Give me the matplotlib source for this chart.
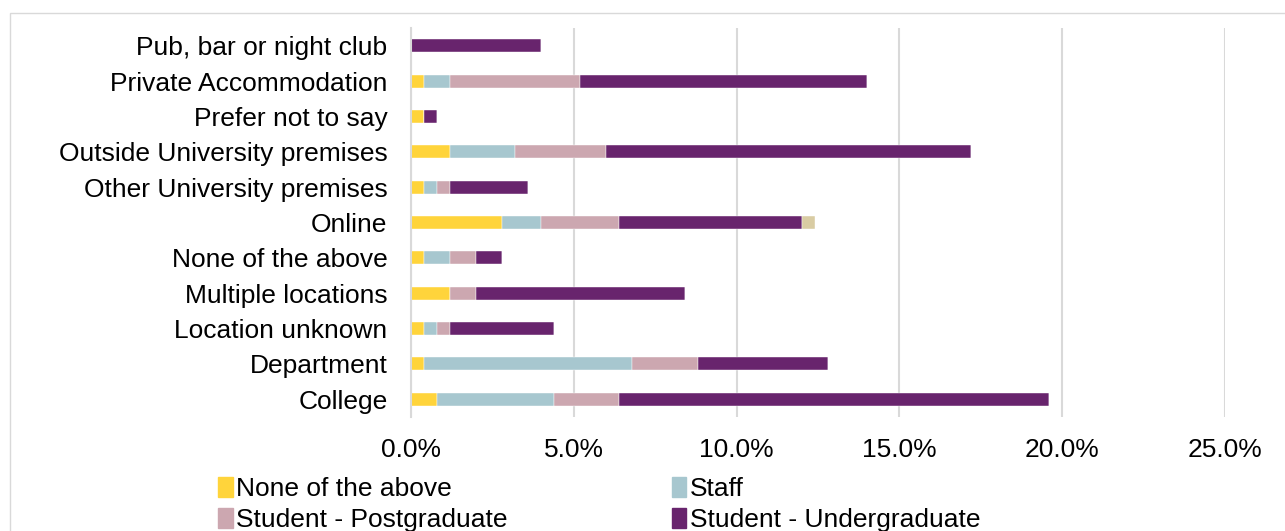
import numpy as np
from matplotlib import pyplot as plt
from matplotlib.patches import Patch, Rectangle

plt.rcParams['font.family'] = ['Liberation Sans', 'DejaVu Sans']

locations = ["College", "Department", "Location unknown", "Multiple locations",
             "None of the above", "Online", "Other University premises",
             "Outside University premises", "Prefer not to say",
             "Private Accommodation", "Pub, bar or night club"]

none_above = [0.8, 0.4, 0.4, 1.2, 0.4, 2.8, 0.4, 1.2, 0.4, 0.4, 0.0]
staff = [3.6, 6.4, 0.4, 0.0, 0.8, 1.2, 0.4, 2.0, 0.0, 0.8, 0.0]
postgrad = [2.0, 2.0, 0.4, 0.8, 0.8, 2.4, 0.4, 2.8, 0.0, 4.0, 0.0]
undergrad = [13.2, 4.0, 3.2, 6.4, 0.8, 5.6, 2.4, 11.2, 0.4, 8.8, 4.0]
other = [0.0, 0.0, 0.0, 0.0, 0.0, 0.4, 0.0, 0.0, 0.0, 0.0, 0.0]

series = [("None of the above", none_above, "#ffd43b"),
          ("Staff", staff, "#a7c7cf"),
          ("Student - Postgraduate", postgrad, "#cca7b0"),
          ("Student - Undergraduate", undergrad, "#68246d"),
          ("Other", other, "#d9cca3")]

fig = plt.figure(figsize=(12.85, 5.31), dpi=100)
ax = fig.add_axes([411/1285, 1 - 417/531, (1225 - 411)/1285, (417 - 28)/531])

y = np.arange(len(locations))
left = np.zeros(len(locations))
for name, vals, col in series:
    v = np.array(vals) / 100
    ax.barh(y, v, left=left, height=0.37, color=col, edgecolor='white', linewidth=0.3)
    left = left + v

ax.set_xlim(0, 0.25)
ax.set_ylim(-0.5, len(locations) - 0.5)
ax.set_yticks(y)
ax.set_yticklabels(locations, fontsize=19)
ax.set_xticks(np.arange(0, 0.26, 0.05))
ax.set_xticklabels([f"{t*100:.1f}%" for t in np.arange(0, 0.26, 0.05)], fontsize=19)
ax.tick_params(length=0)
ax.tick_params(axis='x', pad=15)
ax.tick_params(axis='y', pad=17)
ax.grid(axis='x', color='#d9d9d9', linewidth=1.5)
ax.set_axisbelow(True)
for s in ['top', 'right', 'bottom']:
    ax.spines[s].set_visible(False)
ax.spines['left'].set_color('#d9d9d9')
ax.spines['left'].set_linewidth(1.5)

# excel fills legend row by row
order = [0, 2, 1, 3]
handles = [Patch(color=series[i][2], label=series[i][0]) for i in order]
fig.legend(handles=handles, ncol=2, loc='upper left', bbox_to_anchor=(218/1285, 1 - 477/531),
           frameon=False, fontsize=19, handlelength=0.55, handleheight=0.8,
           handletextpad=0.15, columnspacing=6.2, labelspacing=0.25, borderaxespad=0,
           borderpad=0)

fig.patches.append(Rectangle((10/1285, -0.1), 1.0, 1 + 0.1 - 13/531, transform=fig.transFigure,
                             fill=False, edgecolor='#d9d9d9', linewidth=1))

fig.savefig("out.png", dpi=100)
